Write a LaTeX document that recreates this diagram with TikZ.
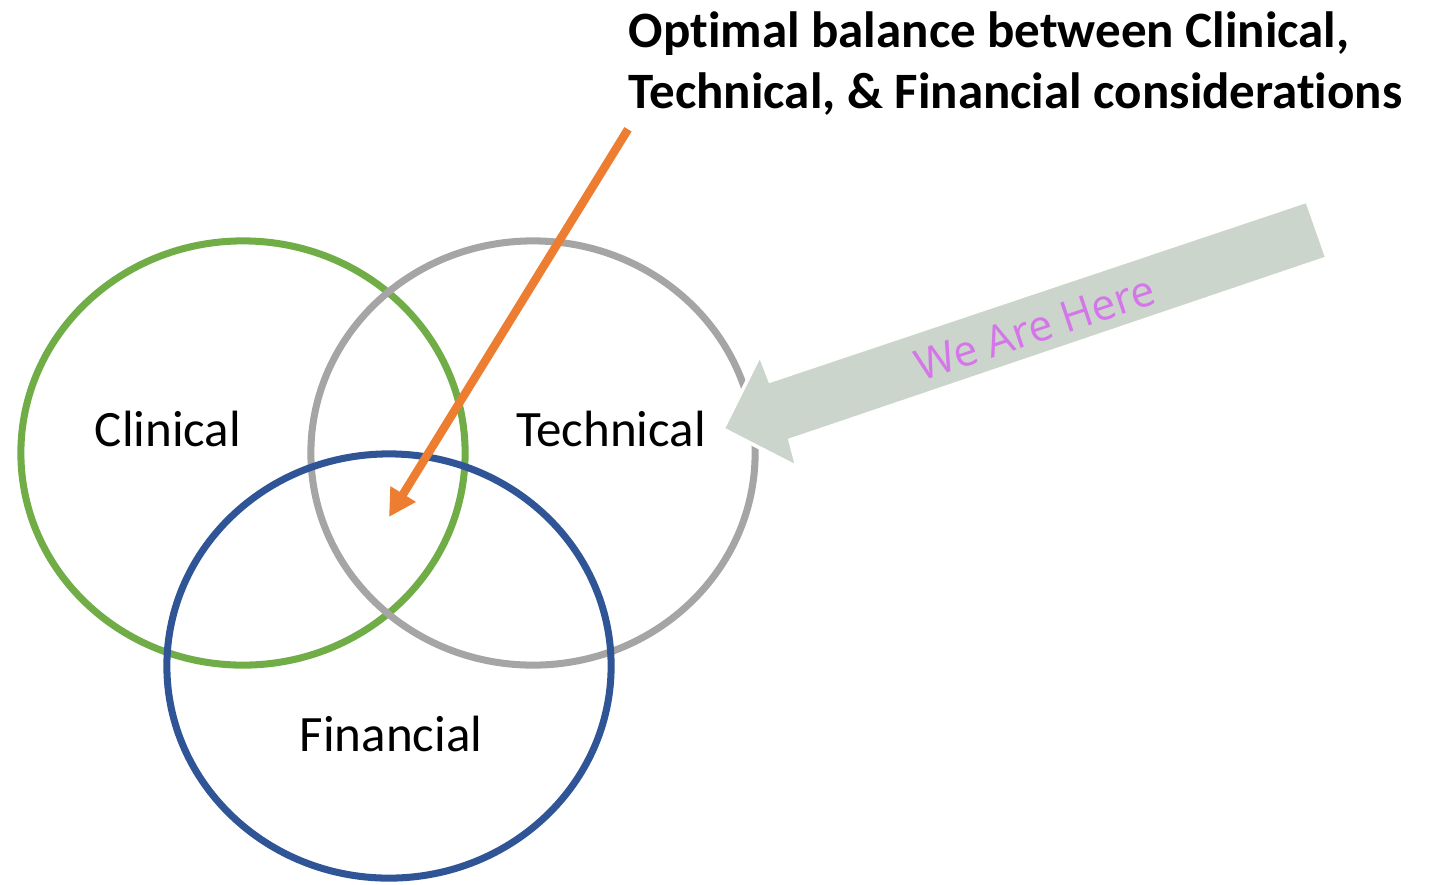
\documentclass[tikz,border=0pt]{standalone}
\usepackage{fontspec}
\setmainfont{Carlito}[Ligatures=NoCommon]
\newfontfamily\herefont{Open Sans}
\usetikzlibrary{shapes.geometric,arrows.meta}
\definecolor{clingreen}{HTML}{70AD47}
\definecolor{techgray}{HTML}{A5A5A5}
\definecolor{finblue}{HTML}{2F5597}
\definecolor{optorange}{HTML}{ED7D31}
\definecolor{heregreen}{HTML}{CBD5CB}
\definecolor{hereviolet}{RGB}{212,118,234}
\newcommand\nolig{\kern0pt}
\tikzset{
  venn/.style={ellipse, draw=#1, line width=2pt, minimum width=4.44cm, minimum height=4.24cm, inner sep=0pt},
  vennlabel/.style={anchor=base, inner sep=0pt, font=\fontsize{14.5}{17.4}\selectfont},
  optarrow/.style={draw=optorange, line width=2.4pt, -{Triangle[length=0.27cm,width=0.28cm]}}
}
\begin{document}
\begin{tikzpicture}[x=0.01cm,y=-0.01cm]
\useasboundingbox (0,0) rectangle (1437,884);
% the three circles
\foreach \name/\cx/\cy/\col in {clin/243/453/clingreen,tech/533/453/techgray,fin/389/666/finblue}
{
	\node[venn=\col] (\name) at (\cx,\cy) {};
}
\node[vennlabel] (clinlabel) at (168,446) {Clinical};
\node[vennlabel] (techlabel) at (611,446) {Technical};
\node[vennlabel] (finlabel) at (391,751) {Financial};
% title and pointer to the middle
\node[anchor=north west, inner sep=0pt, align=left, font=\bfseries\fontsize{14.5}{17.4}\selectfont] (title) at (628,11)
	{Opt\nolig imal balance between Clinical,\\Technical, \& Financial considerat\nolig ions};
\coordinate (core) at (389,517);
\draw[optarrow] ([yshift=-0.13cm]title.south west) -- (core);
% big arrow
\filldraw[fill=heregreen, draw=white, line width=1pt]
	(723,429) -- (760,355) -- (770,381) -- (1307,201) -- (1327,258) -- (790,440) -- (797,467) -- cycle;
\node[rotate=18.5, text=hereviolet, inner sep=0pt, font=\herefont\fontsize{12.2}{14}\selectfont] (here) at (1035,328) {We Are Here};
\end{tikzpicture}
\end{document}
